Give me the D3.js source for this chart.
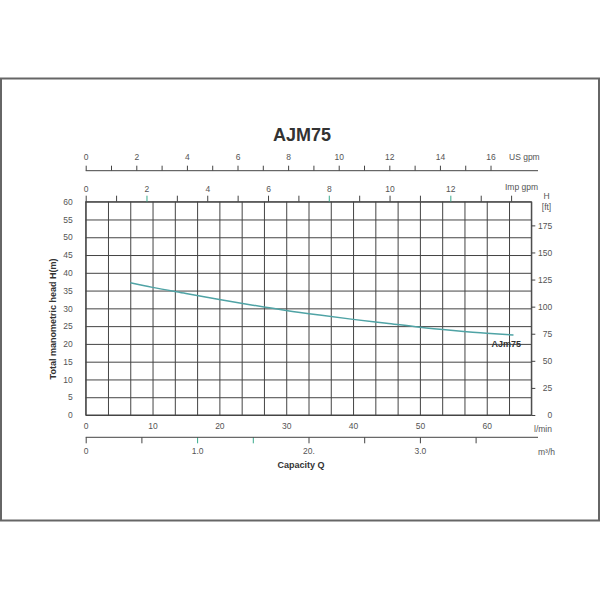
<!DOCTYPE html>
<html>
<head>
<meta charset="utf-8">
<script src="https://cdn.jsdelivr.net/npm/d3@7"></script>
<style>
body { margin: 0; background: #fff; }
text { font-family: "Liberation Sans", Arial, sans-serif; }
</style>
</head>
<body>
<div id="chart"></div>
<script>
var width = 600;
var height = 600;

// pump curve AJm75 : capacity in l/min, head in m
var flowLmin = [6.67, 10, 15, 20, 25, 30, 35, 40, 45, 50, 55, 60, 64];
var headM    = [37.2, 35.9, 34.2, 32.5, 30.9, 29.4, 28.1, 26.9, 25.8, 24.7, 23.8, 23.0, 22.5];

// tick values / labels
var headTicks = [0, 5, 10, 15, 20, 25, 30, 35, 40, 45, 50, 55, 60];
var ftTicks = [0, 25, 50, 75, 100, 125, 150, 175];
var lminLabels = [0, 10, 20, 30, 40, 50, 60];
var m3hTicks = [0, 0.5, 1.0, 1.5, 2.0, 2.5, 3.0, 3.5];
var m3hLabels = ["0", "", "1.0", "", "20.", "", "3.0", ""];
var m3hGreen = [1.0, 1.5];
var usGpmTicks = [0, 1, 2, 3, 4, 5, 6, 7, 8, 9, 10, 11, 12, 13, 14, 15, 16];
var usGpmLabels = [0, 2, 4, 6, 8, 10, 12, 14, 16];
var impGpmTicks = [0, 1, 2, 3, 4, 5, 6, 7, 8, 9, 10, 11, 12, 13, 14];
var impGpmLabels = [0, 2, 4, 6, 8, 10, 12];
var impGreen = [2, 8, 12];

var qMaxM3h = 4;              // right edge of the grid
var lminPerM3h = 1000 / 60;
var lminPerUs = 3.7854;
var lminPerImp = 4.5461;
var mPerFt = 0.3048;

var pLeft = 85.7, pRight = 531.3, pTop = 201.7, pBottom = 415;
var lineEnd = 538;
var gridCol = "#444", textCol = "#555", green = "#3aaa8c";

var svg = d3.select("#chart")
    .append("svg")
    .attr("width", width)
    .attr("height", height);

// outer frame
svg.append("rect")
    .attr("x", 1)
    .attr("y", 78.5)
    .attr("width", 598)
    .attr("height", 442)
    .attr("fill", "none")
    .attr("stroke", "#666")
    .attr("stroke-width", 2);

//Scales
var x = d3.scaleLinear().domain([0, qMaxM3h * lminPerM3h]).range([pLeft, pRight]);
var xM3h = d3.scaleLinear().domain([0, qMaxM3h]).range([pLeft, pRight]);
var xUs = d3.scaleLinear().domain([0, qMaxM3h * lminPerM3h / lminPerUs]).range([pLeft, pRight]);
var xImp = d3.scaleLinear().domain([0, qMaxM3h * lminPerM3h / lminPerImp]).range([pLeft, pRight]);
var y = d3.scaleLinear().domain([0, 60]).range([pBottom, pTop]);
var yFt = d3.scaleLinear().domain([0, 60 / mPerFt]).range([pBottom, pTop]);

function styleAxis(g, size) {
    g.selectAll(".domain").remove();
    g.selectAll("line").attr("stroke", gridCol).attr("stroke-width", 1);
    g.selectAll("text")
        .attr("fill", textCol)
        .style("font-size", size || "8.5px")
        .style("font-family", "'Liberation Sans', Arial, sans-serif");
}

// vertical grid
svg.append("g")
    .attr("transform", "translate(0," + pBottom + ")")
    .call(d3.axisBottom(xM3h).ticks(20).tickSize(-(pBottom - pTop)).tickFormat(""))
    .call(styleAxis);

// horizontal grid + head labels
svg.append("g")
    .attr("transform", "translate(" + pLeft + ",0)")
    .call(d3.axisLeft(y).tickValues(headTicks).tickSize(-(pRight - pLeft)).tickPadding(13))
    .call(styleAxis);

// plot frame
svg.append("rect")
    .attr("x", pLeft)
    .attr("y", pTop)
    .attr("width", pRight - pLeft)
    .attr("height", pBottom - pTop)
    .attr("fill", "none")
    .attr("stroke", gridCol);

// right axis in ft
svg.append("g")
    .attr("transform", "translate(" + pRight + ",0)")
    .call(d3.axisRight(yFt).tickValues(ftTicks).tickSize(4))
    .call(styleAxis)
    .selectAll("text")
    .attr("text-anchor", "end")
    .attr("x", 21);

svg.append("text").attr("x", 546.5).attr("y", 199).attr("text-anchor", "middle")
    .attr("fill", textCol).style("font-size", "8.5px").text("H");
svg.append("text").attr("x", 546.5).attr("y", 210).attr("text-anchor", "middle")
    .attr("fill", textCol).style("font-size", "8.5px").text("[ft]");

// l/min labels
svg.append("g")
    .attr("transform", "translate(0," + pBottom + ")")
    .call(d3.axisBottom(x).tickValues(lminLabels).tickSize(0).tickPadding(8))
    .call(styleAxis);
svg.append("text").attr("x", 534).attr("y", 432)
    .attr("fill", textCol).style("font-size", "8.5px").text("l/min");

// m3/h axis
var m3hAxis = svg.append("g")
    .attr("transform", "translate(0,437.3)")
    .call(d3.axisBottom(xM3h).tickValues(m3hTicks).tickSize(6).tickSizeOuter(0).tickPadding(4.5)
        .tickFormat(function(d, i) { return m3hLabels[i]; }))
    .call(styleAxis);
m3hAxis.selectAll(".tick line")
    .attr("stroke", function(d) { return m3hGreen.indexOf(d) >= 0 ? green : gridCol; });
svg.append("line")
    .attr("x1", pLeft).attr("x2", lineEnd)
    .attr("y1", 437.3).attr("y2", 437.3)
    .attr("stroke", gridCol);
svg.append("text").attr("x", 538).attr("y", 455)
    .attr("fill", textCol).style("font-size", "8.5px").text("m³/h");

svg.append("text").attr("x", 301).attr("y", 468).attr("text-anchor", "middle")
    .attr("fill", "#333").style("font-size", "9px").style("font-weight", "bold")
    .text("Capacity Q");

// US gpm axis
svg.append("g")
    .attr("transform", "translate(0,170.7)")
    .call(d3.axisTop(xUs).tickValues(usGpmTicks).tickSize(5).tickPadding(5.5)
        .tickFormat(function(d) { return usGpmLabels.indexOf(d) >= 0 ? d : ""; }))
    .call(styleAxis);
svg.append("line")
    .attr("x1", pLeft).attr("x2", lineEnd)
    .attr("y1", 170.7).attr("y2", 170.7)
    .attr("stroke", gridCol);
svg.append("text").attr("x", 509).attr("y", 160)
    .attr("fill", textCol).style("font-size", "8.5px").text("US gpm");

// Imp gpm axis
var impAxis = svg.append("g")
    .attr("transform", "translate(0," + pTop + ")")
    .call(d3.axisTop(xImp).tickValues(impGpmTicks).tickSize(6).tickPadding(3.5)
        .tickFormat(function(d) { return impGpmLabels.indexOf(d) >= 0 ? d : ""; }))
    .call(styleAxis);
impAxis.selectAll(".tick line")
    .attr("stroke", function(d) { return impGreen.indexOf(d) >= 0 ? green : gridCol; });
svg.append("text").attr("x", 505).attr("y", 190)
    .attr("fill", textCol).style("font-size", "8.5px").text("Imp gpm");

// y title
svg.append("text")
    .attr("transform", "translate(56,319) rotate(-90)")
    .attr("text-anchor", "middle")
    .attr("fill", "#333").style("font-size", "9px").style("font-weight", "bold")
    .text("Total manometric head H(m)");

// Title
svg.append("text")
    .attr("x", 302).attr("y", 141).attr("text-anchor", "middle")
    .attr("fill", "#333").style("font-size", "18px").style("font-weight", "bold")
    .text("AJM75");

// Pump curve
var curve = flowLmin.map(function(q, i) { return [q, headM[i]]; });
svg.append("path")
    .datum(curve)
    .attr("fill", "none")
    .attr("stroke", "#4fa3a5")
    .attr("stroke-width", 1.5)
    .attr("d", d3.line()
        .x(function(d) { return x(d[0]); })
        .y(function(d) { return y(d[1]); })
        .curve(d3.curveMonotoneX));

svg.append("text")
    .attr("x", x(flowLmin[flowLmin.length - 1]) - 22)
    .attr("y", y(headM[headM.length - 1]) + 12)
    .attr("fill", "#333").style("font-size", "9px").style("font-weight", "bold")
    .text("AJm75");
</script>
</body>
</html>
